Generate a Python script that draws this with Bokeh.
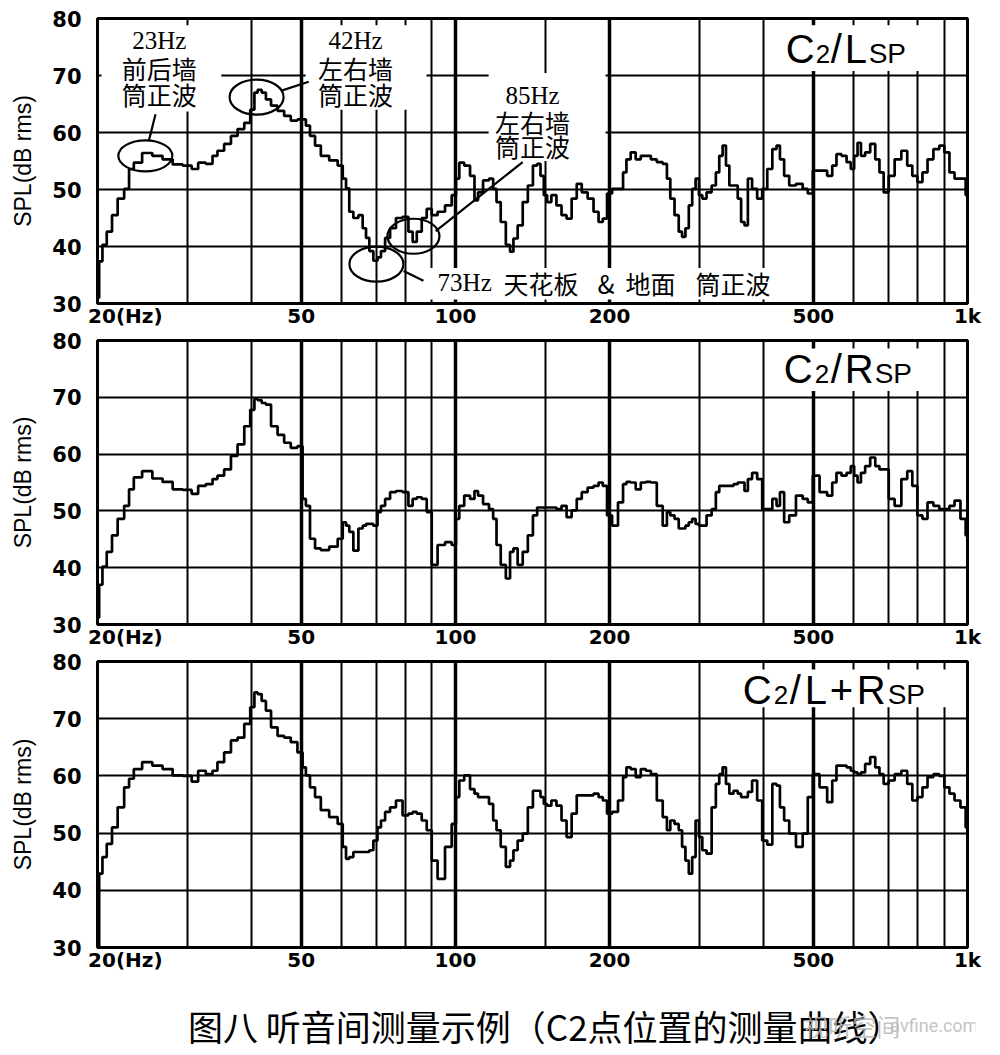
from bokeh.plotting import figure
from bokeh.layouts import column
from bokeh.models import FixedTicker, Grid, Range1d, ColumnDataSource
from bokeh.core.properties import value
from bokeh.embed import file_html
from bokeh.resources import INLINE

# ---------------- data ----------------
FREQ_LO = [20.0, 20.3, 20.6, 21.1, 21.6, 22.2, 22.9, 23.2, 23.9, 25.0,
           26.2, 27.4, 28.7, 30.0, 31.1, 31.8, 33.3, 33.8, 34.8, 35.9,
           37.0, 38.1, 39.3, 40.2, 40.8, 41.4, 42.3, 43.0, 44.3, 45.6,
           47.0, 48.4, 49.9, 50.7, 51.4, 52.6, 53.8, 55.4, 58.0, 59.8,
           60.7, 61.6, 62.5, 63.9, 65.4, 66.4, 67.4, 68.4, 69.9, 71.0,
           72.1, 73.7, 75.4, 77.7, 80.0, 81.9, 83.1, 85.0, 86.9, 88.9,
           90.9, 93.7, 97.2, 99.5, 101.0, 102.5, 105.6, 108.0]
FREQ_HI = [109.9, 111.5, 115.0, 117.6, 119.4, 121.2, 124.0, 126.9, 128.8, 130.8,
           133.8, 136.9, 140.1, 143.3, 145.5, 147.7, 149.9, 152.2, 155.7, 159.3,
           163.0, 166.7, 170.6, 174.5, 178.5, 184.0, 188.2, 192.5, 195.5, 200.0,
           204.6, 210.9, 214.1, 217.4, 222.4, 227.5, 232.8, 238.1, 243.6, 251.1,
           256.9, 260.8, 264.8, 270.9, 275.0, 279.2, 283.4, 287.8, 292.2, 296.7,
           301.2, 305.8, 312.9, 320.1, 325.0, 330.0, 335.0, 340.1, 345.3, 353.2,
           358.6, 364.1, 369.7, 375.3, 384.0, 392.8, 401.8, 411.1, 420.5, 427.0,
           433.5, 443.5, 453.7, 471.2, 482.1, 493.2, 504.5, 524.0, 540.2, 548.5,
           561.1, 574.0, 587.2, 596.2, 605.3, 614.6, 624.0, 638.4, 653.0, 668.0,
           678.2, 693.8, 709.8, 731.6, 754.0, 771.4, 789.2, 807.4, 826.0, 845.0,
           871.0, 891.0, 911.6, 932.6, 954.2, 983.6, 1000.0]
FREQ = FREQ_LO + FREQ_HI

# C2 / L speaker
SPL_L_LO = [31.0, 37.4, 40.3, 42.6, 45.5, 48.4, 50.1, 53.6, 54.7, 56.4,
            55.9, 55.3, 54.4, 54.2, 53.6, 54.7, 54.5, 55.9, 56.8, 58.0,
            59.4, 60.6, 61.7, 64.0, 67.0, 67.5, 67.0, 65.8, 64.7, 63.8,
            62.9, 62.1, 62.3, 62.3, 61.2, 59.4, 57.7, 55.9, 55.1, 54.2,
            51.9, 50.2, 46.1, 45.0, 45.5, 43.2, 41.5, 39.2, 37.5, 38.1,
            39.2, 41.5, 43.2, 45.0, 45.2, 42.6, 40.8, 42.6, 45.0, 46.6,
            45.5, 46.1, 47.2, 49.0, 51.9, 54.7, 54.2, 52.4]
SPL_L_HI = [48.1, 49.5, 51.6, 51.9, 50.1, 47.8, 44.3, 40.3, 39.1, 41.4,
            43.7, 47.8, 50.7, 54.2, 54.5, 52.4, 49.0, 47.8, 49.0, 47.2,
            45.5, 44.9, 48.4, 51.0, 49.5, 48.4, 46.1, 44.3, 44.9, 49.3,
            50.1, 50.1, 53.0, 55.3, 56.5, 55.3, 55.9, 55.9, 55.3, 54.8,
            54.5, 51.9, 48.4, 45.5, 42.6, 41.7, 43.2, 47.2, 50.1, 51.9,
            49.0, 48.4, 49.5, 50.7, 53.0, 55.9, 57.7, 54.2, 50.7, 50.7,
            48.4, 44.3, 43.7, 51.9, 50.1, 48.4, 50.1, 53.6, 57.1, 57.7,
            55.3, 52.4, 50.7, 51.0, 50.1, 49.3, 53.3, 53.3, 52.4, 54.2,
            56.2, 55.9, 54.8, 53.6, 55.9, 58.2, 55.9, 56.5, 58.0, 55.3,
            53.0, 49.5, 52.4, 55.3, 56.8, 54.2, 52.4, 51.3, 53.0, 55.3,
            57.1, 57.7, 56.5, 53.0, 51.9, 51.9, 49.0]

# C2 / R speaker
SPL_R_LO = [31.2, 37.0, 40.2, 42.8, 45.7, 48.6, 50.9, 53.8, 55.9, 57.0,
            55.7, 55.1, 53.8, 53.7, 53.0, 54.4, 54.7, 55.6, 56.2, 57.3,
            59.7, 61.7, 64.9, 67.8, 69.7, 69.5, 69.0, 68.7, 64.9, 63.4,
            62.0, 61.1, 61.4, 52.1, 50.9, 45.1, 43.4, 43.1, 43.7, 45.1,
            48.0, 47.4, 46.3, 43.0, 46.9, 47.4, 47.7, 47.7, 47.4, 49.8,
            50.9, 52.1, 53.3, 53.5, 53.3, 50.9, 52.1, 52.4, 52.1, 49.8,
            40.5, 44.0, 44.5, 44.0, 48.6, 50.9, 52.7, 52.1]
SPL_R_HI = [53.5, 52.7, 51.2, 50.3, 48.6, 44.0, 40.5, 38.1, 42.8, 43.4,
            40.5, 42.8, 45.7, 49.2, 50.6, 50.6, 50.6, 50.6, 50.6, 50.3,
            50.9, 48.9, 50.1, 52.1, 53.3, 54.1, 54.4, 55.0, 54.4, 49.2,
            47.4, 51.5, 54.7, 55.1, 55.0, 53.8, 55.0, 55.1, 55.0, 50.9,
            47.4, 49.8, 49.2, 48.6, 46.9, 46.9, 47.4, 48.0, 48.6, 47.7,
            47.4, 47.4, 49.2, 50.3, 53.3, 54.4, 54.4, 54.4, 54.4, 54.7,
            55.0, 55.0, 53.5, 55.6, 56.7, 55.6, 50.3, 50.3, 52.1, 50.9,
            53.3, 48.0, 49.2, 52.7, 52.1, 51.5, 56.2, 53.3, 52.7, 55.0,
            56.7, 56.2, 56.7, 57.9, 56.2, 55.0, 56.7, 57.9, 59.4, 57.9,
            57.3, 57.3, 52.1, 50.9, 55.6, 57.0, 54.4, 49.2, 48.6, 51.5,
            50.9, 50.3, 50.3, 50.9, 51.8, 48.6, 45.7]

# C2 / L+R speakers
SPL_LR_LO = [30.1, 42.9, 45.8, 48.1, 51.0, 54.5, 58.0, 59.5, 61.2, 62.4,
             61.8, 61.2, 60.1, 60.0, 59.0, 60.9, 60.3, 60.9, 62.4, 64.1,
             66.2, 66.7, 69.1, 72.0, 74.6, 74.3, 73.1, 71.4, 68.5, 67.0,
             66.7, 65.9, 64.1, 61.5, 60.1, 58.0, 56.3, 54.0, 52.8, 51.6,
             47.6, 45.5, 45.8, 46.7, 46.7, 46.7, 46.7, 47.0, 48.7, 51.0,
             52.2, 53.7, 54.5, 55.7, 53.1, 53.4, 53.7, 53.4, 52.2, 50.5,
             45.2, 42.0, 47.6, 51.6, 56.3, 59.2, 60.1, 57.7]
SPL_LR_HI = [56.9, 56.3, 56.3, 55.1, 52.2, 50.5, 47.6, 44.1, 45.2, 47.0,
             48.7, 49.9, 54.5, 57.4, 57.4, 56.3, 55.1, 54.8, 55.7, 54.8,
             52.2, 49.3, 53.4, 56.6, 56.6, 56.6, 56.9, 56.3, 55.7, 53.4,
             53.7, 55.7, 59.8, 61.5, 61.2, 59.8, 61.2, 60.9, 60.3, 55.7,
             52.8, 50.5, 52.2, 51.6, 50.5, 47.6, 45.2, 42.9, 45.8, 52.2,
             49.3, 47.0, 46.4, 54.5, 58.6, 60.3, 61.5, 58.6, 56.9, 57.4,
             56.9, 56.3, 56.3, 57.2, 59.2, 55.7, 48.7, 48.0, 58.6, 58.3,
             54.5, 52.2, 49.9, 47.6, 49.9, 56.3, 60.3, 58.0, 55.4, 59.2,
             61.8, 61.8, 61.5, 60.9, 60.6, 60.3, 60.6, 62.1, 63.3, 61.5,
             60.3, 58.6, 59.2, 60.3, 60.9, 58.6, 55.7, 56.3, 58.0, 59.8,
             60.3, 60.0, 58.0, 56.9, 55.7, 54.5, 51.0]

SPL_L = SPL_L_LO + SPL_L_HI
SPL_R = SPL_R_LO + SPL_R_HI
SPL_LR = SPL_LR_LO + SPL_LR_HI

X_TICKS = [20, 50, 100, 200, 500, 1000]
X_TICK_LABELS = ["20(Hz)", "50", "100", "200", "500", "1k"]
Y_TICKS = [30, 40, 50, 60, 70, 80]
GRID_THIN = [30, 40, 60, 70, 80, 90, 150, 300, 400, 600, 700, 800, 900]
GRID_THICK = [50, 100, 200, 500]
GRID_Y = [40, 50, 60, 70]

CAPTION = "图八 听音间测量示例（C2点位置的测量曲线）"

TICK_FONT = "DejaVu Sans"
SANS = "Liberation Sans"
SERIF = "Liberation Serif"
CJK = "Noto Sans CJK SC"
W = 992
LEFT = 97
RIGHT = 25
NBSP = "\u00a0"


def make_panel(height, b_top, b_bottom):
    p = figure(width=W, height=height, x_axis_type="log",
               x_range=Range1d(20, 1000), y_range=Range1d(30, 80),
               output_backend="svg", toolbar_location=None, title=None,
               min_border_left=LEFT, min_border_right=RIGHT,
               min_border_top=b_top, min_border_bottom=b_bottom)
    p.grid.visible = False
    p.background_fill_color = "white"
    p.outline_line_color = "black"
    p.outline_line_width = 3
    p.add_layout(Grid(dimension=0, ticker=FixedTicker(ticks=GRID_THIN),
                      grid_line_color="black", grid_line_width=2))
    p.add_layout(Grid(dimension=0, ticker=FixedTicker(ticks=GRID_THICK),
                      grid_line_color="black", grid_line_width=3.5))
    p.add_layout(Grid(dimension=1, ticker=FixedTicker(ticks=GRID_Y),
                      grid_line_color="black", grid_line_width=2))
    # y axis
    ay = p.yaxis[0]
    ay.ticker = FixedTicker(ticks=Y_TICKS)
    ay.axis_line_color = None
    ay.major_tick_line_color = None
    ay.minor_tick_line_color = None
    ay.major_label_standoff = 10
    ay.major_label_text_font = TICK_FONT
    ay.major_label_text_font_style = "bold"
    ay.major_label_text_font_size = "21px"
    ay.major_label_text_color = "black"
    ay.axis_label = "SPL(dB rms)"
    ay.axis_label_text_font = SANS
    ay.axis_label_text_font_style = "normal"
    ay.axis_label_text_font_size = "23px"
    ay.axis_label_text_color = "black"
    ay.axis_label_standoff = 13
    # x axis
    ax = p.xaxis[0]
    ax.ticker = FixedTicker(ticks=X_TICKS)
    overrides = {t: l for t, l in zip(X_TICKS, X_TICK_LABELS)}
    overrides[X_TICKS[0]] = NBSP * 8 + X_TICK_LABELS[0]
    ax.major_label_overrides = overrides
    ax.axis_line_color = None
    ax.major_tick_line_color = None
    ax.minor_tick_line_color = None
    ax.major_tick_out = 0
    ax.major_tick_in = 0
    ax.major_label_standoff = 0
    ax.major_label_text_font = TICK_FONT
    ax.major_label_text_font_style = "bold"
    ax.major_label_text_font_size = "20px"
    ax.major_label_text_color = "black"
    return p


def white_box(p, left, right, bottom, top):
    p.quad(left=[left], right=[right], bottom=[bottom], top=[top],
           fill_color="white", line_color=None)


def curve(p, freq, spl):
    src = ColumnDataSource(dict(f=freq, spl=spl))
    p.step(x="f", y="spl", source=src, mode="center",
           line_color="black", line_width=2.7)


def title(p, x, base_y, px_per_db, parts):
    # every piece sits on the same baseline; "middle" is placed 0.35 em above it
    for s, dx, size in parts:
        y = base_y + 0.35 * size / px_per_db
        p.text(x=[x], y=[y], text=[s], x_offset=dx, text_font=value(SANS),
               text_font_size=f"{size}px", text_align="left",
               text_baseline="middle", text_color="black")


def note(p, x, y, s, font, size, align="center", dx=0):
    p.text(x=[x], y=[y], text=[s], x_offset=dx, text_font=value(font),
           text_font_size=f"{size}px", text_align=align,
           text_baseline="middle", text_color="black")


# ---------- panel 1 : C2 / L ----------
p1 = make_panel(330, 18, 24)
white_box(p1, 20.36, 34.9, 63.7, 78.8)
white_box(p1, 51.0, 87.8, 64.0, 78.8)
white_box(p1, 116.1, 196.4, 55.0, 70.45)
white_box(p1, 87.8, 424.0, 30.7, 36.25)
white_box(p1, 412.6, 874.5, 70.8, 78.8)
curve(p1, FREQ, SPL_L)
title(p1, 441.5, 72.2, 5.76, [("C", 0, 40), ("2", 30, 26), ("/", 45, 40),
                              ("L", 59, 40), ("SP", 83, 28)])
for cx, lab in [(26.4, "23Hz"), (63.8, "42Hz")]:
    note(p1, cx, 76.1, lab, SERIF, 25)
note(p1, 26.4, 71.4, "前后墙", CJK, 25)
note(p1, 26.4, 66.8, "筒正波", CJK, 25)
note(p1, 63.8, 71.4, "左右墙", CJK, 25)
note(p1, 63.8, 66.8, "筒正波", CJK, 25)
note(p1, 141.5, 66.5, "85Hz", SERIF, 25)
note(p1, 141.5, 61.9, "左右墙", CJK, 25)
note(p1, 141.5, 57.6, "筒正波", CJK, 25)
note(p1, 92.3, 33.6, "73Hz", SERIF, 25, align="left")
for s, dx in [("天花板", 66), ("&", 160), ("地面", 188), ("筒正波", 258)]:
    note(p1, 92.3, 33.6, s, CJK, 25, align="left", dx=dx)
p1.ellipse(x=[24.8, 40.9, 70.1, 82.8], y=[55.9, 66.2, 36.9, 41.8],
           width=[54, 54, 54, 52], height=[31, 35, 35, 35],
           width_units="screen", height_units="screen",
           fill_color=None, line_color="black", line_width=2.2)
p1.segment(x0=[25.96, 45.6, 79.2, 91.5], y0=[63.2, 67.3, 35.7, 42.7],
           x1=[25.2, 51.7, 86.6, 135.3], y1=[58.6, 68.9, 34.0, 54.8],
           line_color="black", line_width=2.2)

# ---------- panel 2 : C2 / R ----------
p2 = make_panel(321, 10, 25)
white_box(p2, 412.6, 874.5, 71.1, 78.6)
curve(p2, FREQ, SPL_R)
title(p2, 437.5, 72.5, 5.72, [("C", 0, 40), ("2", 31, 26), ("/", 47, 40),
                              ("R", 61, 40), ("SP", 91, 28)])

# ---------- panel 3 : C2 / L+R ----------
p3 = make_panel(324, 10, 28)
white_box(p3, 349.4, 960.0, 72.0, 78.6)
curve(p3, FREQ, SPL_LR)
title(p3, 363.8, 72.5, 5.72, [("C", 0, 40), ("2", 31, 26), ("/", 47, 40),
                              ("L", 62, 40), ("+", 87, 40), ("R", 114, 40),
                              ("SP", 145, 28)])

# ---------- caption ----------
pc = figure(width=1000, height=80, x_range=Range1d(0, 1), y_range=Range1d(0, 1),
            x_axis_location=None, y_axis_location=None, output_backend="svg",
            toolbar_location=None, title=None, min_border=0)
pc.grid.visible = False
pc.outline_line_color = None
pc.text(x=[0.51], y=[0.375], text=[CAPTION], text_font=value(CJK),
        text_font_size="35px", text_align="center", text_baseline="middle",
        text_color="black")
pc.text(x=[0.805], y=[0.375], text=["视听空间"], text_font=value(CJK),
        text_font_size="24px", text_align="left", text_baseline="middle",
        text_color="#b8b8b8", text_alpha=0.85)
pc.text(x=[0.903], y=[0.375], text=["avfine.com"], text_font=value("Roboto"),
        text_font_size="18px", text_align="left", text_baseline="middle",
        text_color="#b8b8b8", text_alpha=0.85)

layout = column(p1, p2, p3, pc, spacing=0)
open("out.html", "w").write(file_html(layout, INLINE))
